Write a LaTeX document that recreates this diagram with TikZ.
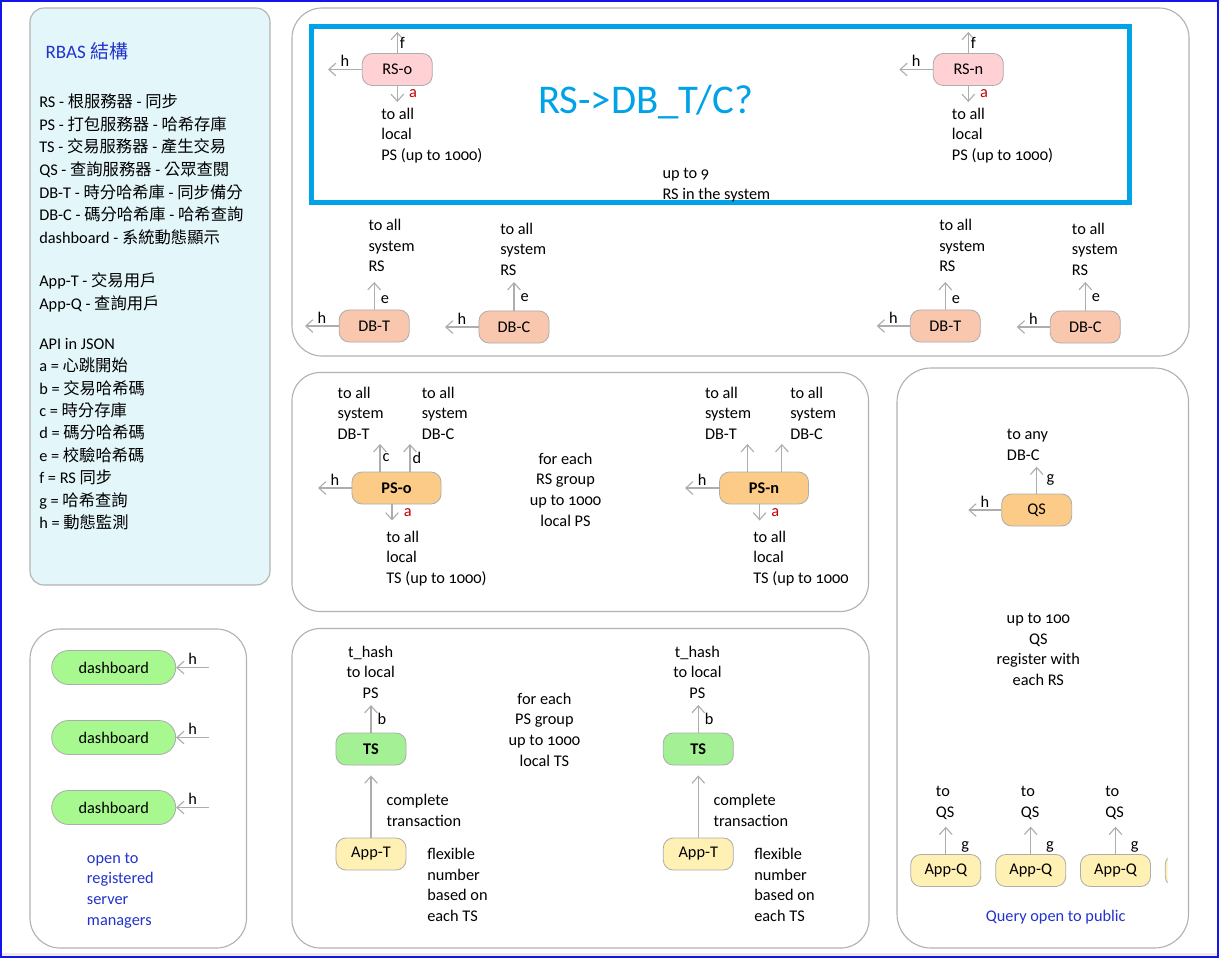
\documentclass[tikz,border=0pt]{standalone}
\usepackage{fontspec}
\setmainfont{Carlito}[Numbers=OldStyle]
\newfontfamily\cjk{Noto Sans CJK TC}
\usepackage{xcolor}
\usetikzlibrary{arrows.meta,positioning}

\definecolor{framebl}{HTML}{1414F0}
\definecolor{rsbl}{HTML}{00A2E8}
\definecolor{txtbl}{HTML}{2233CC}
\definecolor{legendbg}{HTML}{E3F6FA}
\definecolor{panelln}{HTML}{B2B2B2}
\definecolor{arrowgr}{HTML}{ADADAD}
\definecolor{rsfill}{HTML}{FFD0D4}
\definecolor{dbfill}{HTML}{F9C7AE}
\definecolor{psfill}{HTML}{FCCB88}
\definecolor{tsfill}{HTML}{A4F094}
\definecolor{dashfill}{HTML}{A8F890}
\definecolor{appfill}{HTML}{FFF0B4}
\definecolor{apired}{HTML}{C00000}

\begin{document}
\begin{tikzpicture}[
  x=0.025cm, y=-0.025cm,
  >={Straight Barb[length=5pt,width=9pt]},
  panel/.style={draw=panelln, line width=0.8pt, rounded corners=7mm, fill=white},
  srv/.style={
    draw=black!32,
    line width=0.6pt,
    rounded corners=2.5mm,
    minimum width=17.5mm,
    minimum height=8mm,
    inner sep=0pt,
    font=\fontsize{11.6}{13}\selectfont
  },
  txt/.style={anchor=base west, align=left, inner sep=0pt, font=\fontsize{11.6}{14.6}\selectfont},
  ctxt/.style={anchor=base, align=center, inner sep=0pt, font=\fontsize{11.6}{14.6}\selectfont},
  legend/.style={txt, font=\fontsize{11.6}{16.1}\selectfont},
  lbl/.style={inner sep=1.5pt, font=\fontsize{11.6}{13}\selectfont},
  albl/.style={lbl, text=apired},
  flow/.style={->, draw=arrowgr, line width=0.8pt}
]

\useasboundingbox (0,0) rectangle (1221,959);

% frame and panels (multi-line texts sit on the baseline of their last line)
\fill[black!8] (2,952.5) rectangle (1217,956);
\draw[framebl, line width=1.4pt] (1,1) rectangle (1217.5,957);
\draw[panel, fill=legendbg, rounded corners=3.5mm] (30,8) rectangle (270,585);
\draw[panel, rounded corners=7.5mm] (292,8) rectangle (1189,356);
\draw[panel] (292,372.5) rectangle (868.5,611.5);
\draw[panel] (292,628.5) rectangle (869,948);
\draw[panel, rounded corners=8.5mm] (897,368) rectangle (1188.5,948);
\draw[panel, rounded corners=7.5mm] (30,629) rectangle (246.5,948);
\draw[rsbl, line width=3.5pt] (311.5,26.5) rectangle (1129.5,202.5);

% legend
\node[anchor=base west, inner sep=0pt, text=txtbl, font=\fontsize{13.5}{15}\selectfont] (legtitle)
  at (45.3,58.5) {RBAS {\cjk 結構}};
\node[legend] (legsrv) at (39,243.3)
  {RS - {\cjk 根服務器} - {\cjk 同步}\\
   PS - {\cjk 打包服務器} - {\cjk 哈希存庫}\\
   TS - {\cjk 交易服務器} - {\cjk 產生交易}\\
   QS - {\cjk 查詢服務器} - {\cjk 公眾查閱}\\
   DB-T - {\cjk 時分哈希庫} - {\cjk 同步備分}\\
   DB-C - {\cjk 碼分哈希庫} - {\cjk 哈希查詢}\\
   dashboard - {\cjk 系統動態顯示}};
\node[legend] (legapp) at (39,309.4)
  {App-T - {\cjk 交易用戶}\\
   App-Q - {\cjk 查詢用戶}};
\node[legend, font=\fontsize{11.6}{15.9}\selectfont] (legapi) at (39,528.4)
  {API in JSON\\
   a = {\cjk 心跳開始}\\
   b = {\cjk 交易哈希碼}\\
   c = {\cjk 時分存庫}\\
   d = {\cjk 碼分哈希碼}\\
   e = {\cjk 校驗哈希碼}\\
   f = RS {\cjk 同步}\\
   g = {\cjk 哈希查詢}\\
   h = {\cjk 動態監測}};

% root servers
\node[srv, fill=rsfill] (rso) at (397.3,69.5) {RS-o};
\node[srv, fill=rsfill] (rsn) at (968.3,69.5) {RS-n};
\coordinate (rsof) at (397.3,32);
\coordinate (rsoh) at (328,69.5);
\coordinate (rsoa) at (397.3,102);
\coordinate (rsnf) at (968.3,32);
\coordinate (rsnh) at (899.3,69.5);
\coordinate (rsna) at (968.3,102);
\node[txt] (rsotxt) at (381,160.5) {to all\\local\\PS (up to 1000)};
\node[txt] (rsntxt) at (951.7,160.5) {to all\\local\\PS (up to 1000)};
\node[anchor=base west, inner sep=0pt, text=rsbl, font=\fontsize{29}{31}\selectfont] (rsq)
  at (538,113.3) {RS->DB\_T/C?};
\node[txt] (rscount) at (662.3,199.3) {up to 9\\RS in the system};

% hash databases
\node[srv, fill=dbfill] (dbt1) at (374.2,326) {DB-T};
\node[srv, fill=dbfill] (dbc1) at (514,327) {DB-C};
\node[srv, fill=dbfill] (dbt2) at (945.3,326) {DB-T};
\node[srv, fill=dbfill] (dbc2) at (1085.3,327) {DB-C};
\coordinate (dbt1e) at (374.2,282);
\coordinate (dbt1h) at (305,326);
\coordinate (dbc1e) at (514,282);
\coordinate (dbc1h) at (445,327);
\coordinate (dbt2e) at (945.3,282);
\coordinate (dbt2h) at (876.7,326);
\coordinate (dbc2e) at (1085.3,282);
\coordinate (dbc2h) at (1016.7,327);
\node[txt] (dbt1txt) at (368.3,271.9) {to all\\system\\RS};
\node[txt] (dbc1txt) at (500,275.5) {to all\\system\\RS};
\node[txt] (dbt2txt) at (939,271.9) {to all\\system\\RS};
\node[txt] (dbc2txt) at (1071.7,275.5) {to all\\system\\RS};

% packing servers
\node[srv, fill=psfill, minimum width=22.25mm, font=\fontsize{11.6}{13}\selectfont\bfseries] (pso)
  at (396.5,488) {PS-o};
\node[srv, fill=psfill, minimum width=22.25mm, font=\fontsize{11.6}{13}\selectfont\bfseries] (psn)
  at (764,488) {PS-n};
\coordinate (psoc) at (380,444);
\coordinate (psod) at (410,444);
\coordinate (psoh) at (318,488);
\coordinate (psoa) at (392,520.5);
\coordinate (psnc) at (747.4,444);
\coordinate (psnd) at (781.9,444);
\coordinate (psnh) at (685,488);
\coordinate (psna) at (759.6,520.5);
\node[txt] (psotxt1) at (337.4,439.5) {to all\\system\\DB-T};
\node[txt] (psotxt2) at (421.5,439.5) {to all\\system\\DB-C};
\node[txt] (psotxt3) at (386,583.5) {to all\\local\\TS (up to 1000)};
\node[ctxt] (psgroup) at (565.5,526) {for each\\RS group\\up to 1000\\local PS};
\node[txt] (psntxt1) at (704.8,439.5) {to all\\system\\DB-T};
\node[txt] (psntxt2) at (790,439.5) {to all\\system\\DB-C};
\begin{scope}
  \clip (740,520) rectangle (847,600);
  \node[txt] (psntxt3) at (753,583.5) {to all\\local\\TS (up to 1000)};
\end{scope}

% transaction servers
\node[srv, fill=tsfill, font=\fontsize{11.6}{13}\selectfont\bfseries] (ts1) at (371,749) {TS};
\node[srv, fill=tsfill, font=\fontsize{11.6}{13}\selectfont\bfseries] (ts2) at (698.3,749) {TS};
\node[srv, fill=appfill] (appt1) at (371,854) {App-T};
\node[srv, fill=appfill] (appt2) at (698.3,854) {App-T};
\coordinate (ts1b) at (371,705);
\coordinate (ts2b) at (698.3,705);
\node[ctxt] (ts1txt) at (370.7,698.5) {t\_hash\\to local\\PS};
\node[ctxt] (ts2txt) at (697.4,698.5) {t\_hash\\to local\\PS};
\node[txt] (appt1txt) at (386.3,826) {complete\\transaction};
\node[txt] (appt2txt) at (713.3,826) {complete\\transaction};
\node[txt] (appt1num) at (427,921.5) {flexible\\number\\based on\\each TS};
\node[txt] (appt2num) at (754,921.5) {flexible\\number\\based on\\each TS};
\node[ctxt] (tsgroup) at (544.4,766) {for each\\PS group\\up to 1000\\local TS};

% query servers
\node[srv, fill=psfill] (qs) at (1036.7,510) {QS};
\coordinate (qsg) at (1036.7,466.7);
\coordinate (qsh) at (968.3,510);
\node[txt] (qstxt) at (1006.7,460.3) {to any\\DB-C};
\node[ctxt] (qscount) at (1038.3,685.5) {up to 100\\QS\\register with\\each RS};
\node[srv, fill=appfill] (appq1) at (945.8,870.5) {App-Q};
\node[srv, fill=appfill] (appq2) at (1030.7,870.5) {App-Q};
\node[srv, fill=appfill] (appq3) at (1115.5,870.5) {App-Q};
\begin{scope}
  \clip (1160,840) rectangle (1167.5,900);
  \node[srv, fill=appfill] (appq4) at (1200.3,870.5) {App-Q};
\end{scope}
\coordinate (appq1g) at (945.8,826.7);
\coordinate (appq2g) at (1030.7,826.7);
\coordinate (appq3g) at (1115.5,826.7);
\node[txt] (appq1txt) at (935.7,817) {to\\QS};
\node[txt] (appq2txt) at (1020.7,817) {to\\QS};
\node[txt] (appq3txt) at (1105,817) {to\\QS};
\node[ctxt, text=txtbl] (qspublic) at (1055.7,921.7) {Query open to public};

% dashboards
\node[srv, fill=dashfill, minimum width=31mm, minimum height=8.5mm, rounded corners=4.25mm] (dash1)
  at (113.7,667.5) {dashboard};
\node[srv, fill=dashfill, minimum width=31mm, minimum height=8.5mm, rounded corners=4.25mm] (dash2)
  at (113.7,737.5) {dashboard};
\node[srv, fill=dashfill, minimum width=31mm, minimum height=8.5mm, rounded corners=4.25mm] (dash3)
  at (113.7,807.5) {dashboard};
\coordinate (dash1h) at (209,667.5);
\coordinate (dash2h) at (209,737.5);
\coordinate (dash3h) at (209,807.5);
\node[txt, text=txtbl] (dashtxt) at (86.7,925) {open to\\registered\\server\\managers};

% connectors
\draw[flow] (rso) -- (rsof) node[lbl, midway, right] (lrsof) {f};
\draw[flow] (rso) -- (rsoh) node[lbl, midway, above] (lrsoh) {h};
\draw[flow] (rso) -- (rsoa) node[albl, midway, right, xshift=2.3mm] (lrsoa) {a};
\draw[flow] (rsn) -- (rsnf) node[lbl, midway, right] (lrsnf) {f};
\draw[flow] (rsn) -- (rsnh) node[lbl, midway, above] (lrsnh) {h};
\draw[flow] (rsn) -- (rsna) node[albl, midway, right, xshift=2.3mm] (lrsna) {a};

\draw[flow] (dbt1) -- (dbt1e) node[lbl, pos=.36, right, xshift=1mm] (ldbt1e) {e};
\draw[flow] (dbt1) -- (dbt1h) node[lbl, midway, above] (ldbt1h) {h};
\draw[flow] (dbc1) -- (dbc1e) node[lbl, pos=.45, right, xshift=1mm] (ldbc1e) {e};
\draw[flow] (dbc1) -- (dbc1h) node[lbl, midway, above] (ldbc1h) {h};
\draw[flow] (dbt2) -- (dbt2e) node[lbl, pos=.36, right, xshift=1mm] (ldbt2e) {e};
\draw[flow] (dbt2) -- (dbt2h) node[lbl, midway, above] (ldbt2h) {h};
\draw[flow] (dbc2) -- (dbc2e) node[lbl, pos=.45, right, xshift=1mm] (ldbc2e) {e};
\draw[flow] (dbc2) -- (dbc2h) node[lbl, midway, above] (ldbc2h) {h};

\draw[flow] (pso.north -| psoc) -- (psoc) node[lbl, pos=.5, right] (lpsoc) {c};
\draw[flow] (pso.north -| psod) -- (psod) node[lbl, pos=.5, right] (lpsod) {d};
\draw[flow] (pso) -- (psoh) node[lbl, midway, above] (lpsoh) {h};
\draw[flow] (pso.south -| psoa) -- (psoa) node[albl, midway, right, xshift=2.3mm] (lpsoa) {a};
\draw[flow] (psn.north -| psnc) -- (psnc);
\draw[flow] (psn.north -| psnd) -- (psnd);
\draw[flow] (psn) -- (psnh) node[lbl, midway, above] (lpsnh) {h};
\draw[flow] (psn.south -| psna) -- (psna) node[albl, midway, right, xshift=2.3mm] (lpsna) {a};

\draw[flow] (ts1) -- (ts1b) node[lbl, midway, right, xshift=1mm] (lts1b) {b};
\draw[flow] (ts2) -- (ts2b) node[lbl, midway, right, xshift=1mm] (lts2b) {b};
\draw[flow, shorten >=2.5mm] (appt1) -- (ts1);
\draw[flow, shorten >=2.5mm] (appt2) -- (ts2);

\draw[flow] (qs) -- (qsg) node[lbl, midway, right, xshift=1.8mm] (lqsg) {g};
\draw[flow] (qs) -- (qsh) node[lbl, midway, above] (lqsh) {h};
\draw[flow] (appq1) -- (appq1g) node[lbl, pos=.25, right, xshift=3.2mm] (lappq1g) {g};
\draw[flow] (appq2) -- (appq2g) node[lbl, pos=.25, right, xshift=3.2mm] (lappq2g) {g};
\draw[flow] (appq3) -- (appq3g) node[lbl, pos=.25, right, xshift=3.2mm] (lappq3g) {g};

\draw[flow] (dash1h) -- (dash1) node[lbl, midway, above] (ldash1h) {h};
\draw[flow] (dash2h) -- (dash2) node[lbl, midway, above] (ldash2h) {h};
\draw[flow] (dash3h) -- (dash3) node[lbl, midway, above] (ldash3h) {h};

\end{tikzpicture}
\end{document}
